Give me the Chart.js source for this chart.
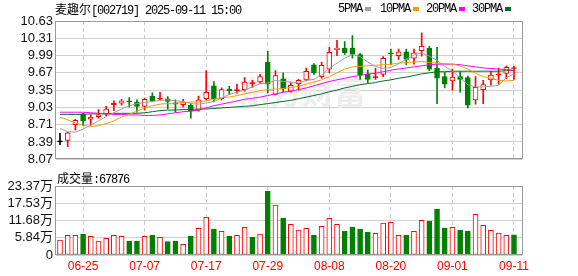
<!DOCTYPE html>
<html>
<head>
<meta charset="utf-8">
<script src="https://cdn.jsdelivr.net/npm/chart.js@4.4.1/dist/chart.umd.min.js"></script>
<style>
  body { margin:0; background:#fff; width:578px; height:276px; overflow:hidden; position:relative; }
  canvas { position:absolute; left:0; }
  #price { top:0; }
  #vol { top:170px; }
  .txt { position:absolute; white-space:nowrap; font:12px "Liberation Mono", monospace; letter-spacing:-1.2px; color:#000; line-height:12px; }
  .cjk { font-family:"Noto Sans CJK SC"; letter-spacing:0; }
  .sq { position:absolute; width:6px; height:4px; }
</style>
</head>
<body>
<canvas id="price" width="578" height="170"></canvas>
<canvas id="vol" width="578" height="106"></canvas>

<div class="txt" style="left:55px;top:3px"><span class="cjk">麦趣尔</span>[002719] 2025-09-11 15:00</div>

<div class="txt" style="left:338px;top:3px">5PMA</div>
<div class="sq" style="left:365px;top:7px;background:#a0a0a0"></div>
<div class="txt" style="left:380px;top:3px">10PMA</div>
<div class="sq" style="left:413px;top:7px;background:#f0a000"></div>
<div class="txt" style="left:426px;top:3px">20PMA</div>
<div class="sq" style="left:459px;top:7px;background:#ff00ff"></div>
<div class="txt" style="left:472px;top:3px">30PMA</div>
<div class="sq" style="left:505px;top:7px;background:#006e28"></div>

<div class="txt" style="left:57px;top:172px"><span class="cjk">成交量</span>:67876</div>

<script>
// trading days
var dates = ['06-20','06-23','06-24','06-25','06-26','06-27','06-30','07-01','07-02','07-03',
  '07-04','07-07','07-08','07-09','07-10','07-11','07-14','07-15','07-16','07-17',
  '07-18','07-21','07-22','07-23','07-24','07-25','07-28','07-29','07-30','07-31',
  '08-01','08-04','08-05','08-06','08-07','08-08','08-11','08-12','08-13','08-14',
  '08-15','08-18','08-19','08-20','08-21','08-22','08-25','08-26','08-27','08-28',
  '08-29','09-01','09-02','09-03','09-04','09-05','09-08','09-09','09-10','09-11'];

var opens = [8.39,8.42,8.71,8.91,8.81,8.86,8.91,9.08,9.11,9.15,
  9.13,9.05,9.24,9.18,9.19,9.11,9.08,9.07,8.98,9.19,
  9.43,9.19,9.37,9.34,9.36,9.47,9.50,9.87,9.27,9.56,
  9.33,9.47,9.54,9.82,9.60,9.74,10.10,10.13,10.13,10.01,
  9.64,9.58,9.64,10.03,9.99,10.06,9.94,10.08,10.13,9.76,
  9.60,9.52,9.60,9.58,9.17,9.36,9.54,9.63,9.66,9.75];
var highs = [8.55,8.57,8.81,8.92,8.89,8.99,9.05,9.15,9.18,9.21,
  9.17,9.20,9.30,9.31,9.23,9.17,9.18,9.11,9.24,9.71,
  9.51,9.39,9.42,9.46,9.58,9.53,9.64,10.07,9.71,9.67,
  9.49,9.55,9.76,9.84,9.87,10.14,10.27,10.25,10.36,10.03,
  9.72,9.76,9.97,10.11,10.11,10.11,10.11,10.41,10.16,10.14,
  9.68,9.74,9.69,9.61,9.60,9.53,9.70,9.76,9.80,9.79];
var lows = [8.34,8.30,8.61,8.69,8.70,8.83,8.87,8.97,9.07,9.04,
  8.94,8.98,9.14,9.17,9.00,8.94,9.04,8.83,8.96,9.17,
  9.13,9.17,9.27,9.29,9.33,9.40,9.48,9.30,9.26,9.32,
  9.31,9.35,9.52,9.64,9.57,9.67,9.99,10.01,9.94,9.55,
  9.48,9.55,9.60,9.82,9.92,9.82,9.83,9.98,9.71,9.10,
  9.39,9.35,9.31,9.02,9.09,9.10,9.44,9.46,9.56,9.55];
var closes = [8.39,8.56,8.79,8.78,8.85,8.89,9.00,9.11,9.15,9.13,
  9.05,9.18,9.15,9.19,9.14,9.09,9.12,8.96,9.17,9.31,
  9.18,9.36,9.34,9.36,9.50,9.48,9.60,9.46,9.62,9.37,
  9.44,9.53,9.70,9.67,9.81,10.05,10.13,10.04,10.01,9.63,
  9.55,9.60,9.94,10.02,10.06,9.92,10.04,10.16,9.74,9.57,
  9.46,9.59,9.55,9.07,9.40,9.45,9.63,9.64,9.77,9.76];
var prevClose0 = 8.39; // close of the day before the first bar

// volume, in 万
var volumes = [5.08,6.66,6.66,7.11,6.32,4.74,5.64,6.66,6.32,4.74,
  4.74,6.32,6.77,5.98,4.52,4.74,3.61,6.43,9.03,12.76,
  8.81,8.02,6.43,6.66,9.37,5.98,7.11,21.68,16.94,12.53,
  10.39,8.47,9.03,6.77,9.71,12.42,10.39,8.13,9.48,8.81,
  7.79,7.34,10.84,11.06,6.66,6.77,8.02,11.74,11.52,15.58,
  9.14,9.37,8.47,8.13,13.77,10.05,8.35,7.45,6.66,6.79];

var ma5 = [8.64,8.58,8.57,8.63,8.70,8.78,8.86,8.93,9.00,9.06,
  9.10,9.12,9.14,9.16,9.17,9.15,9.14,9.10,9.09,9.11,
  9.14,9.20,9.27,9.31,9.35,9.41,9.47,9.48,9.53,9.51,
  9.50,9.48,9.53,9.55,9.63,9.75,9.85,9.94,10.01,9.97,
  9.87,9.79,9.75,9.77,9.84,9.92,10.00,10.04,9.98,9.90,
  9.79,9.70,9.58,9.45,9.41,9.41,9.42,9.44,9.58,9.65];
var ma10 = [8.85,8.80,8.74,8.70,8.67,8.69,8.73,8.78,8.85,8.90,
  8.96,9.02,9.06,9.09,9.10,9.11,9.12,9.13,9.13,9.15,
  9.18,9.21,9.22,9.25,9.28,9.31,9.34,9.36,9.37,9.38,
  9.40,9.42,9.46,9.50,9.54,9.60,9.67,9.74,9.78,9.79,
  9.80,9.81,9.82,9.83,9.85,9.86,9.87,9.88,9.86,9.85,
  9.84,9.83,9.80,9.74,9.66,9.60,9.57,9.53,9.52,9.53];
var ma20 = [8.94,8.94,8.94,8.94,8.93,8.92,8.91,8.90,8.90,8.89,
  8.89,8.88,8.88,8.89,8.91,8.93,8.95,8.96,8.98,9.02,
  9.06,9.09,9.12,9.15,9.18,9.20,9.22,9.25,9.28,9.31,
  9.33,9.36,9.39,9.43,9.47,9.51,9.54,9.57,9.60,9.62,
  9.65,9.66,9.69,9.72,9.74,9.76,9.78,9.80,9.82,9.83,
  9.83,9.83,9.82,9.80,9.78,9.76,9.75,9.74,9.73,9.72];
var ma30 = [8.90,8.90,8.90,8.90,8.91,8.91,8.91,8.92,8.92,8.92,
  8.92,8.93,8.95,8.97,8.98,8.98,8.99,8.99,9.00,9.00,
  9.01,9.02,9.03,9.04,9.05,9.06,9.08,9.10,9.12,9.14,
  9.16,9.19,9.22,9.25,9.28,9.32,9.35,9.39,9.42,9.45,
  9.47,9.49,9.52,9.54,9.57,9.59,9.62,9.65,9.67,9.69,
  9.69,9.70,9.70,9.70,9.70,9.70,9.70,9.70,9.71,9.71];

var priceTicks = [8.07,8.39,8.71,9.03,9.35,9.67,9.99,10.31,10.63];
var volTicks = [0,5.84,11.68,17.53,23.37];

var RED = '#ff0000', GREEN = '#008000', BLACK = '#000000';
var xMin = -0.52, xMax = 60.04;
var labelIdx = [];
for (var i = 3; i < dates.length; i += 8) labelIdx.push(i);

function candleColor(i) {
  if (closes[i] > opens[i]) return RED;
  if (closes[i] < opens[i]) return GREEN;
  return BLACK;
}
function volColor(i) {
  var prev = i == 0 ? prevClose0 : closes[i - 1];
  return closes[i] >= prev ? RED : GREEN;
}

var wicks = [], bodies = [], vols = [];
var bodyFill = [], bodyLine = [], wickCol = [], volFill = [], volLine = [];
for (var i = 0; i < dates.length; i++) {
  wicks.push({x: i, y: [lows[i], highs[i]]});
  bodies.push({x: i, y: [opens[i], closes[i]]});
  vols.push({x: i, y: volumes[i]});
  var c = candleColor(i);
  wickCol.push(c);
  bodyLine.push(c);
  bodyFill.push(c == RED && Math.abs(closes[i] - opens[i]) > 0.03 ? '#ffffff' : c);
  var vc = volColor(i);
  volLine.push(vc);
  volFill.push(vc == RED ? '#ffffff' : vc);
}
function line(arr) {
  return arr.map(function (v, i) { return {x: i, y: v}; });
}

// frame around plot area
var frame = {
  id: 'frame',
  afterDatasetsDraw: function (chart) {
    var a = chart.chartArea, ctx = chart.ctx;
    ctx.save();
    ctx.strokeStyle = '#999';
    ctx.lineWidth = 1;
    ctx.strokeRect(Math.round(a.left) - 0.5, Math.round(a.top) + 0.5,
      Math.round(a.right - a.left) + 1, Math.round(a.bottom - a.top) - 1);
    ctx.restore();
  }
};
var watermark = {
  id: 'watermark',
  beforeDatasetsDraw: function (chart) {
    var ctx = chart.ctx;
    ctx.save();
    ctx.fillStyle = '#ededed';
    ctx.font = 'bold 32px "Noto Sans CJK SC"';
    ctx.textBaseline = 'middle';
    ctx.fillText('东方财富', 238, 92);
    ctx.restore();
  }
};

function xScale(showLabels) {
  return {
    type: 'linear', min: xMin, max: xMax, offset: false,
    afterBuildTicks: function (s) { s.ticks = labelIdx.map(function (v) { return {value: v}; }); },
    afterFit: function (s) { s.height = showLabels ? 21 : 0; },
    border: {display: false, dash: [4, 3]},
    grid: {color: '#cccccc', drawTicks: false, offset: false},
    ticks: {
      display: showLabels, padding: 4, color: RED, maxRotation: 0, autoSkip: false,
      font: {family: 'Liberation Sans', size: 12},
      callback: function (v) { return dates[v]; }
    }
  };
}

new Chart(document.getElementById('price'), {
  type: 'bar',
  data: {
    datasets: [
      {type: 'line', data: line(ma5), borderColor: '#a0a0a0', borderWidth: 1, pointRadius: 0, order: 0},
      {type: 'line', data: line(ma10), borderColor: '#f0a000', borderWidth: 1, pointRadius: 0, order: 0},
      {type: 'line', data: line(ma20), borderColor: '#ff00ff', borderWidth: 1, pointRadius: 0, order: 0},
      {type: 'line', data: line(ma30), borderColor: '#006e28', borderWidth: 1, pointRadius: 0, order: 0},
      {data: bodies, backgroundColor: bodyFill, borderColor: bodyLine, borderWidth: 1,
        borderSkipped: false, barThickness: 5, minBarLength: 1, grouped: false, order: 1},
      {data: wicks, backgroundColor: wickCol, borderWidth: 0, barThickness: 1, grouped: false, order: 2}
    ]
  },
  options: {
    responsive: false, animation: false, devicePixelRatio: 1,
    layout: {padding: {left: 0, right: 56, top: 21, bottom: 5}},
    plugins: {legend: {display: false}, tooltip: {enabled: false}},
    scales: {
      x: xScale(false),
      y: {
        min: 8.07, max: 10.63,
        afterBuildTicks: function (s) { s.ticks = priceTicks.map(function (v) { return {value: v}; }); },
        afterFit: function (s) { s.width = 56; },
        border: {display: false},
        grid: {color: '#d0d0d0', drawTicks: false},
        ticks: {padding: 3, color: '#111', autoSkip: false, font: {family: 'Liberation Sans', size: 13},
          callback: function (v) { return v.toFixed(2); }}
      }
    }
  },
  plugins: [watermark, frame]
});

new Chart(document.getElementById('vol'), {
  type: 'bar',
  data: {
    datasets: [
      {data: vols, backgroundColor: volFill, borderColor: volLine, borderWidth: 1,
        borderSkipped: false, barThickness: 5}
    ]
  },
  options: {
    responsive: false, animation: false, devicePixelRatio: 1,
    layout: {padding: {left: 0, right: 56, top: 16, bottom: 0}},
    plugins: {legend: {display: false}, tooltip: {enabled: false}},
    scales: {
      x: xScale(true),
      y: {
        min: 0, max: 23.37,
        afterBuildTicks: function (s) { s.ticks = volTicks.map(function (v) { return {value: v}; }); },
        afterFit: function (s) { s.width = 56; },
        border: {display: false},
        grid: {color: '#d0d0d0', drawTicks: false},
        ticks: {padding: 3, color: '#111', autoSkip: false, font: {family: 'Liberation Sans, Noto Sans CJK SC', size: 13},
          callback: function (v) { return v == 0 ? '0' : v.toFixed(2) + '万'; }}
      }
    }
  },
  plugins: [frame]
});
</script>
</body>
</html>
